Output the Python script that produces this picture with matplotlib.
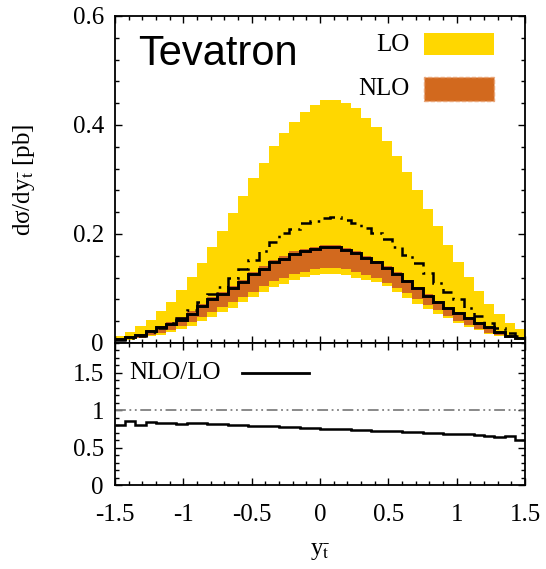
import numpy as np
import matplotlib
matplotlib.use('Agg')
import matplotlib.pyplot as plt
from matplotlib.patches import Rectangle
from matplotlib.ticker import MultipleLocator, FuncFormatter

plt.rcParams['font.family'] = ['Liberation Serif', 'DejaVu Serif']
plt.rcParams['mathtext.fontset'] = 'stix'
plt.rcParams['axes.unicode_minus'] = False

# 40 bins in y_tbar from -1.5 to 1.5
edges = np.linspace(-1.5, 1.5, 41)

# LO scale band (yellow)
lo_up = [0.0135, 0.020, 0.032, 0.043, 0.059, 0.076, 0.098, 0.121, 0.147, 0.177,
         0.206, 0.239, 0.270, 0.302, 0.331, 0.362, 0.386, 0.406, 0.424, 0.436,
         0.445, 0.4465, 0.440, 0.431, 0.413, 0.396, 0.371, 0.344, 0.313, 0.281,
         0.245, 0.214, 0.180, 0.149, 0.122, 0.095, 0.072, 0.054, 0.037, 0.026]
lo_dn = [0.004, 0.006, 0.009, 0.012, 0.015, 0.020, 0.026, 0.032, 0.040, 0.048,
         0.056, 0.065, 0.075, 0.084, 0.093, 0.102, 0.109, 0.115, 0.122, 0.125,
         0.126, 0.127, 0.124, 0.120, 0.116, 0.112, 0.104, 0.094, 0.082, 0.072,
         0.062, 0.053, 0.045, 0.037, 0.030, 0.023, 0.017, 0.013, 0.010, 0.006]
# LO central (dash-dot)
lo_c = [0.006, 0.009, 0.013, 0.020, 0.028, 0.037, 0.046, 0.061, 0.075, 0.089,
        0.103, 0.119, 0.135, 0.153, 0.168, 0.185, 0.201, 0.209, 0.220, 0.224,
        0.229, 0.231, 0.226, 0.220, 0.211, 0.202, 0.190, 0.177, 0.162, 0.147,
        0.128, 0.110, 0.094, 0.080, 0.064, 0.049, 0.037, 0.028, 0.018, 0.012]

# NLO scale band (orange)
nlo_up = [0.008, 0.012, 0.016, 0.024, 0.031, 0.038, 0.047, 0.058, 0.071, 0.084,
          0.094, 0.105, 0.116, 0.131, 0.141, 0.153, 0.159, 0.168, 0.172, 0.177,
          0.180, 0.179, 0.174, 0.168, 0.159, 0.151, 0.141, 0.130, 0.116, 0.103,
          0.089, 0.077, 0.066, 0.057, 0.048, 0.038, 0.030, 0.022, 0.014, 0.010]
nlo_dn = [0.0055, 0.008, 0.010, 0.014, 0.018, 0.023, 0.031, 0.039, 0.048, 0.056,
          0.066, 0.075, 0.084, 0.094, 0.104, 0.113, 0.119, 0.127, 0.131, 0.136,
          0.138, 0.138, 0.135, 0.130, 0.124, 0.119, 0.110, 0.100, 0.091, 0.081,
          0.070, 0.060, 0.050, 0.041, 0.033, 0.025, 0.019, 0.014, 0.011, 0.007]
# NLO central (solid)
nlo_c = [0.007, 0.011, 0.014, 0.022, 0.029, 0.035, 0.043, 0.054, 0.067, 0.080,
         0.089, 0.100, 0.111, 0.127, 0.135, 0.149, 0.155, 0.164, 0.168, 0.173,
         0.177, 0.176, 0.171, 0.165, 0.156, 0.148, 0.138, 0.127, 0.113, 0.100,
         0.086, 0.075, 0.064, 0.055, 0.046, 0.037, 0.029, 0.021, 0.013, 0.009]

# NLO/LO ratio
ratio = [0.807, 0.861, 0.798, 0.843, 0.834, 0.830, 0.816, 0.825, 0.834, 0.821,
         0.812, 0.807, 0.798, 0.794, 0.785, 0.789, 0.776, 0.771, 0.762, 0.758,
         0.753, 0.744, 0.744, 0.735, 0.731, 0.726, 0.717, 0.717, 0.704, 0.704,
         0.699, 0.695, 0.686, 0.686, 0.677, 0.668, 0.655, 0.637, 0.650, 0.606]

YELLOW = '#FFD700'
ORANGE = '#D2691E'
gfmt = FuncFormatter(lambda v, _: f'{v:g}')

fig = plt.figure(figsize=(5.46, 5.69), dpi=100)
ax = fig.add_axes([0.2106, 0.3972, 0.751, 0.5747])
rx = fig.add_axes([0.2106, 0.1476, 0.751, 0.2496])

# top panel
ax.stairs(lo_up, edges, baseline=lo_dn, fill=True, color=YELLOW, lw=0)
ax.stairs(nlo_up, edges, baseline=nlo_dn, fill=True, color=ORANGE, lw=0)
ax.stairs(lo_c, edges, baseline=None, color='k', lw=1.8, ls=(0, (5, 2.5, 1, 2.5)))
ax.stairs(nlo_c, edges, baseline=None, color='k', lw=2.1)

ax.set_xlim(-1.5, 1.5)
ax.set_ylim(0, 0.6)
ax.yaxis.set_major_locator(MultipleLocator(0.2))
ax.yaxis.set_minor_locator(MultipleLocator(0.04))
ax.yaxis.set_major_formatter(gfmt)
ax.set_ylabel('dσ/dy$_{\\bar{\\mathrm{t}}}$ [pb]', fontsize=18, labelpad=26)

ax.text(0.056, 0.85, 'Tevatron', transform=ax.transAxes, fontsize=30,
        family='Liberation Sans', va='baseline', ha='left')
ax.text(0.717, 0.911, 'LO', transform=ax.transAxes, fontsize=18, ha='right', va='center')
ax.text(0.717, 0.777, 'NLO', transform=ax.transAxes, fontsize=18, ha='right', va='center')
ax.add_patch(Rectangle((0.754, 0.881), 0.171, 0.067, transform=ax.transAxes,
                       facecolor=YELLOW, edgecolor='none'))
ax.add_patch(Rectangle((0.754, 0.740), 0.171, 0.073, transform=ax.transAxes,
                       facecolor=ORANGE, edgecolor='#E9A577', lw=1.0, ls=(0, (3, 1.5))))

# ratio panel
rx.stairs(ratio, edges, baseline=None, color='k', lw=1.8)
rx.axhline(1.0, color='#808080', lw=1.3, ls=(0, (6, 2, 1, 2, 1, 2)))
rx.plot([0.310, 0.473], [0.789, 0.789], color='k', lw=2, transform=rx.transAxes)
rx.text(0.034, 0.789, 'NLO/LO', transform=rx.transAxes, fontsize=18, ha='left', va='center')

rx.set_xlim(-1.5, 1.5)
rx.set_ylim(0, 1.9)
rx.yaxis.set_major_locator(MultipleLocator(0.5))
rx.yaxis.set_minor_locator(MultipleLocator(0.1))
rx.yaxis.set_major_formatter(gfmt)
rx.set_xlabel('y$_{\\bar{\\mathrm{t}}}$', fontsize=18, labelpad=10)

for a in (ax, rx):
    a.xaxis.set_major_locator(MultipleLocator(0.5))
    a.xaxis.set_minor_locator(MultipleLocator(0.1))
    a.xaxis.set_major_formatter(gfmt)
    a.tick_params(which='both', direction='in', top=True, right=True,
                  labelsize=18, width=1.0)
    a.tick_params(which='major', length=5, pad=8)
    a.tick_params(which='minor', length=3)
    for s in a.spines.values():
        s.set_linewidth(1.3)
rx.tick_params(axis='x', which='major', pad=14)
ax.tick_params(labelbottom=False)

fig.savefig('out.png', dpi=100)
